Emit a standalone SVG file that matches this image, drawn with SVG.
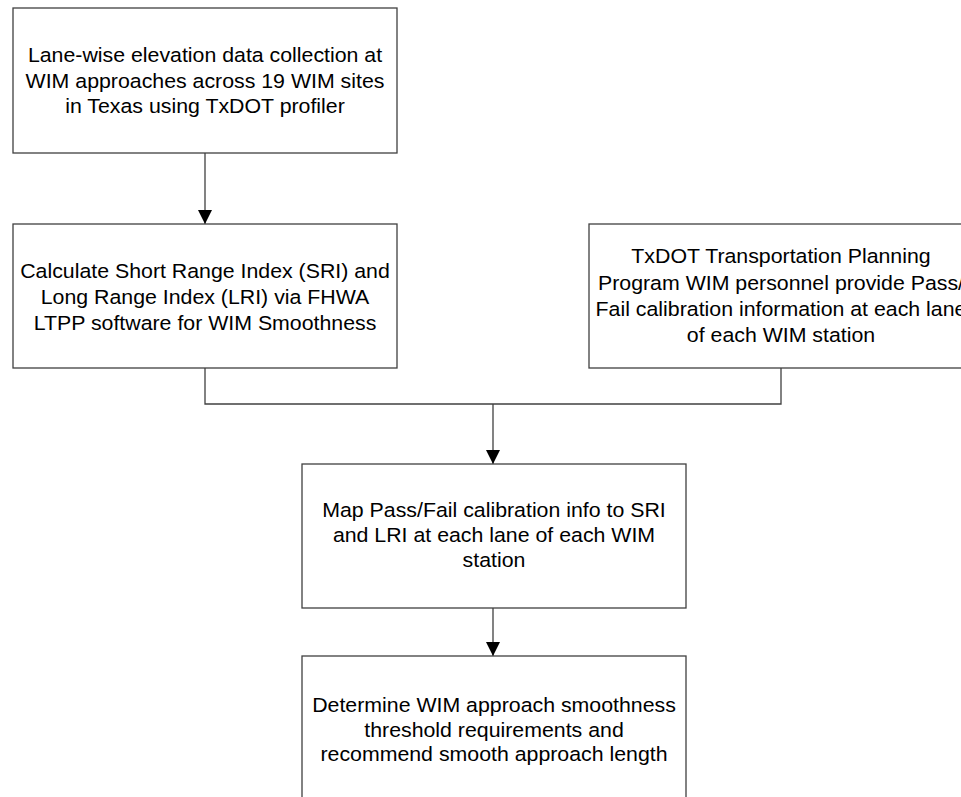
<svg xmlns="http://www.w3.org/2000/svg" width="961" height="797" viewBox="0 0 961 797">
<style>
.box{fill:#fff;stroke:#404040;stroke-width:1.3}
.t{font-family:"Liberation Sans",Arial,sans-serif;font-size:20.5px;fill:#000;text-anchor:middle}
.c{fill:none;stroke:#404040;stroke-width:1.3}
</style>
<defs>
<marker id="ah" viewBox="0 0 14 14" refX="14" refY="7" markerWidth="14" markerHeight="14" markerUnits="userSpaceOnUse" orient="auto">
<path d="M0,0 L14,7 L0,14 Z" fill="#000"/>
</marker>
</defs>
<rect width="961" height="797" fill="#fff"/>
<g id="connectors">
<path class="c" d="M205,153 V224" marker-end="url(#ah)"/>
<path class="c" d="M205,368 V404 H781 V368"/>
<path class="c" d="M493,404 V464" marker-end="url(#ah)"/>
<path class="c" d="M493,608 V656" marker-end="url(#ah)"/>
</g>
<g id="n1">
<rect class="box" x="13" y="8" width="384" height="145"/>
<g transform="translate(205 0) scale(1.04 1)">
<text class="t" x="0" y="62">Lane-wise elevation data collection at</text>
<text class="t" x="0" y="88">WIM approaches across 19 WIM sites</text>
<text class="t" x="0" y="113">in Texas using TxDOT profiler</text>
</g>
</g>
<g id="n2">
<rect class="box" x="13" y="224" width="384" height="144"/>
<g transform="translate(205 0) scale(1.04 1)">
<text class="t" x="0" y="278">Calculate Short Range Index (SRI) and</text>
<text class="t" x="0" y="304">Long Range Index (LRI) via FHWA</text>
<text class="t" x="0" y="330">LTPP software for WIM Smoothness</text>
</g>
</g>
<g id="n3">
<rect class="box" x="589" y="224" width="384" height="144"/>
<g transform="translate(781 0) scale(1.04 1)">
<text class="t" x="0" y="263.5">TxDOT Transportation Planning</text>
<text class="t" x="0" y="290">Program WIM personnel provide Pass/</text>
<text class="t" x="0" y="316">Fail calibration information at each lane</text>
<text class="t" x="0" y="342">of each WIM station</text>
</g>
</g>
<g id="n4">
<rect class="box" x="302" y="464" width="384" height="144"/>
<g transform="translate(494 0) scale(1.04 1)">
<text class="t" x="0" y="517">Map Pass/Fail calibration info to SRI</text>
<text class="t" x="0" y="542">and LRI at each lane of each WIM</text>
<text class="t" x="0" y="567">station</text>
</g>
</g>
<g id="n5">
<rect class="box" x="302" y="656" width="384" height="160"/>
<g transform="translate(494 0) scale(1.04 1)">
<text class="t" x="0" y="712">Determine WIM approach smoothness</text>
<text class="t" x="0" y="737">threshold requirements and</text>
<text class="t" x="0" y="761">recommend smooth approach length</text>
</g>
</g>
</svg>
